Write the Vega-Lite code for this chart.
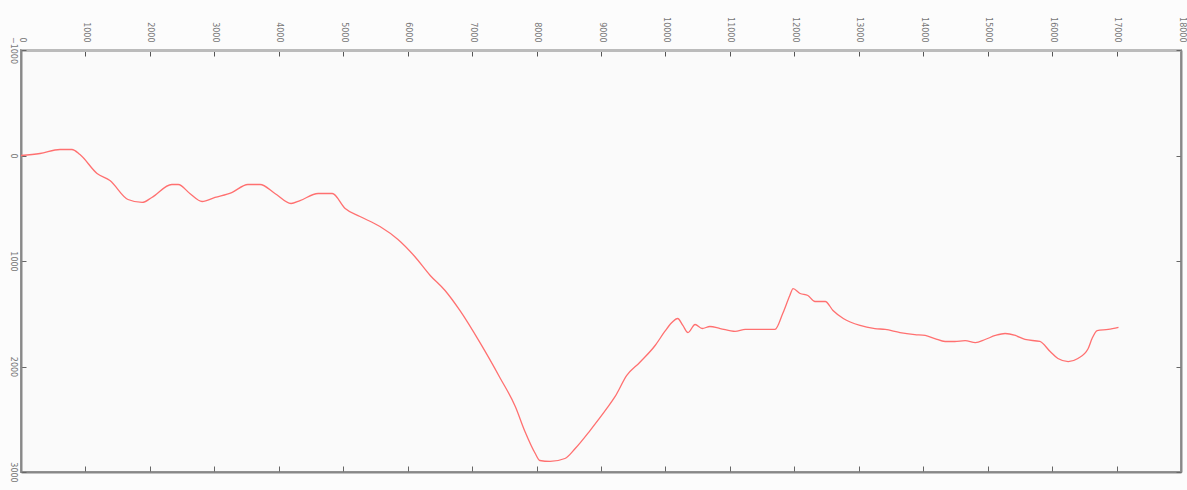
{
  "$schema": "https://vega.github.io/schema/vega-lite/v6.json",
  "width": 1160,
  "height": 422,
  "autosize": {"type": "none"},
  "padding": {"left": 21, "top": 50, "right": 6, "bottom": 18},
  "background": "#fcfcfc",
  "config": {"view": {"stroke": "#999", "strokeWidth": 2, "fill": "#fafafa"}},
  "data": {"values": [
    {"x":0,"y":0},{"x":295,"y":-19},{"x":605,"y":-57},{"x":790,"y":-57},{"x":915,"y":-9},
    {"x":1180,"y":170},{"x":1380,"y":237},{"x":1660,"y":417},{"x":1880,"y":445},{"x":2030,"y":398},
    {"x":2340,"y":275},{"x":2440,"y":275},{"x":2620,"y":360},{"x":2810,"y":436},{"x":3010,"y":398},
    {"x":3270,"y":351},{"x":3520,"y":275},{"x":3710,"y":275},{"x":3940,"y":360},{"x":4190,"y":455},
    {"x":4330,"y":427},{"x":4610,"y":360},{"x":4830,"y":360},{"x":5030,"y":502},{"x":5260,"y":578},
    {"x":5570,"y":673},{"x":5850,"y":796},{"x":6110,"y":957},{"x":6350,"y":1137},{"x":6580,"y":1280},
    {"x":6810,"y":1469},{"x":7120,"y":1772},{"x":7430,"y":2104},{"x":7670,"y":2379},{"x":7820,"y":2616},
    {"x":7980,"y":2825},{"x":8050,"y":2891},{"x":8210,"y":2900},{"x":8440,"y":2872},{"x":8600,"y":2777},
    {"x":8830,"y":2607},{"x":9090,"y":2398},{"x":9220,"y":2284},{"x":9400,"y":2085},{"x":9600,"y":1962},
    {"x":9840,"y":1801},{"x":9990,"y":1668},{"x":10100,"y":1583},{"x":10190,"y":1545},{"x":10270,"y":1611},
    {"x":10350,"y":1678},{"x":10460,"y":1602},{"x":10570,"y":1640},{"x":10690,"y":1621},{"x":10850,"y":1640},
    {"x":11080,"y":1668},{"x":11240,"y":1649},{"x":11470,"y":1649},{"x":11700,"y":1649},{"x":11820,"y":1498},
    {"x":11930,"y":1327},{"x":11980,"y":1261},{"x":12090,"y":1308},{"x":12210,"y":1327},{"x":12320,"y":1384},
    {"x":12480,"y":1384},{"x":12600,"y":1469},{"x":12760,"y":1545},{"x":13020,"y":1611},{"x":13250,"y":1640},
    {"x":13410,"y":1649},{"x":13640,"y":1678},{"x":13870,"y":1697},{"x":14030,"y":1706},{"x":14180,"y":1735},
    {"x":14340,"y":1763},{"x":14490,"y":1763},{"x":14650,"y":1754},{"x":14810,"y":1773},{"x":14960,"y":1744},
    {"x":15120,"y":1706},{"x":15270,"y":1687},{"x":15430,"y":1706},{"x":15580,"y":1744},{"x":15810,"y":1763},
    {"x":15970,"y":1858},{"x":16090,"y":1924},{"x":16250,"y":1953},{"x":16400,"y":1924},{"x":16560,"y":1829},
    {"x":16620,"y":1735},{"x":16700,"y":1659},{"x":16870,"y":1649},{"x":17030,"y":1630}
  ]},
  "layer": [
    {
      "mark": {"type": "line", "color": "#ff7070", "strokeWidth": 1.3, "interpolate": "monotone"},
      "encoding": {
        "x": {"field": "x", "type": "quantitative", "scale": {"domain": [0, 18000], "nice": false, "zero": false},
          "axis": {"orient": "top", "title": null, "values": [0,1000,2000,3000,4000,5000,6000,7000,8000,9000,10000,11000,12000,13000,14000,15000,16000,17000,18000],
            "format": "d", "grid": false, "domainColor": "#bbb", "domainWidth": 3, "tickColor": "#555", "tickSize": -6,
            "labelAngle": 90, "labelAlign": "right", "labelBaseline": "middle", "labelPadding": 14, "labelFontSize": 8, "labelColor": "#777", "labelFont": "DejaVu Sans"}},
        "y": {"field": "y", "type": "quantitative", "scale": {"domain": [-1000, 3000], "reverse": true, "nice": false, "zero": false},
          "axis": {"orient": "left", "title": null, "values": [-1000,0,1000,2000,3000], "format": "d", "grid": false,
            "domainColor": "#888", "domainWidth": 2, "tickColor": "#666", "tickSize": -5,
            "labelAngle": 90, "labelAlign": "center", "labelBaseline": "middle", "labelPadding": 14, "labelFontSize": 8, "labelColor": "#777", "labelFont": "DejaVu Sans"}}
      }
    },
    {
      "mark": {"type": "line", "opacity": 0},
      "encoding": {
        "x": {"field": "x", "type": "quantitative", "scale": {"domain": [0, 18000], "nice": false, "zero": false},
          "axis": {"orient": "bottom", "title": null, "values": [0,1000,2000,3000,4000,5000,6000,7000,8000,9000,10000,11000,12000,13000,14000,15000,16000,17000,18000],
            "labels": false, "grid": false, "domainColor": "#888", "domainWidth": 2, "tickColor": "#666", "tickSize": -6}},
        "y": {"field": "y", "type": "quantitative", "scale": {"domain": [-1000, 3000], "reverse": true, "nice": false, "zero": false},
          "axis": {"orient": "right", "title": null, "values": [-1000,0,1000,2000,3000], "labels": false, "grid": false,
            "domainColor": "#888", "domainWidth": 2, "tickColor": "#666", "tickSize": -5}}
      }
    }
  ],
  "resolve": {"axis": {"x": "independent", "y": "independent"}}
}
